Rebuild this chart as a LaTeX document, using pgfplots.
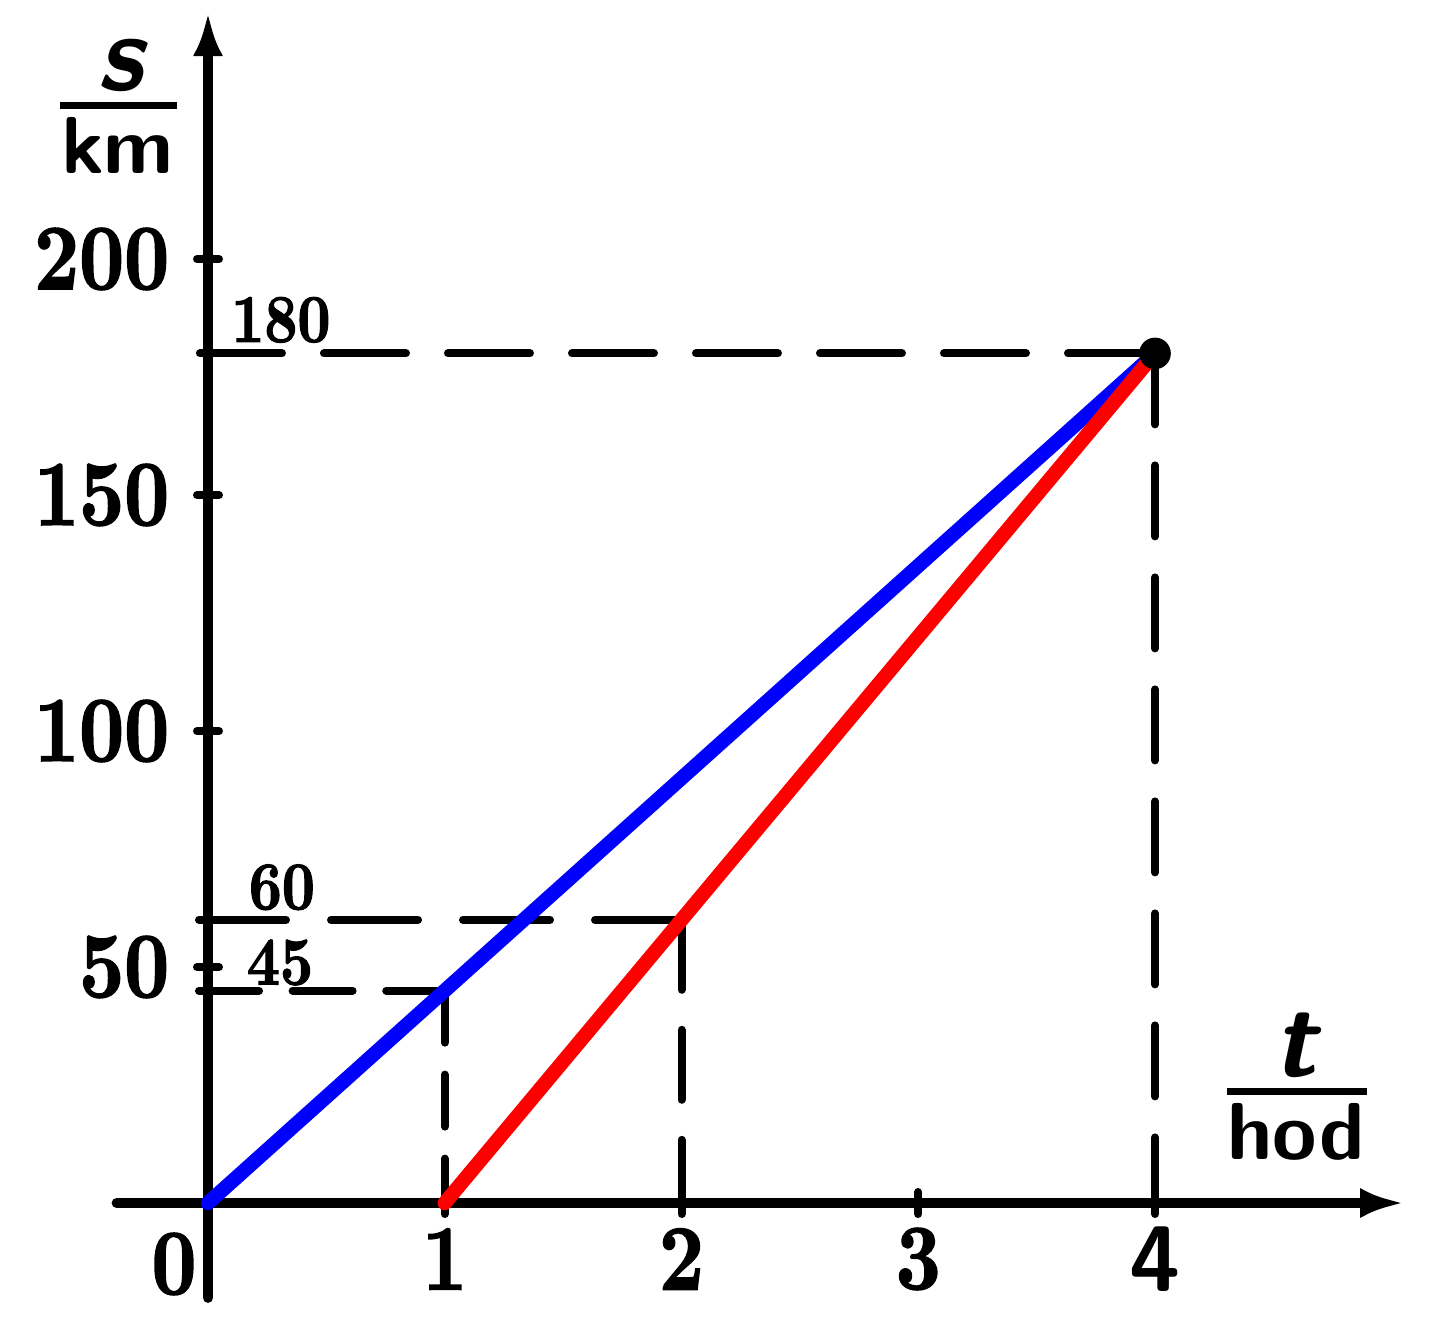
\documentclass[border=0pt]{standalone}
\usepackage{fontspec}
\usepackage{pgfplots}
\pgfplotsset{compat=1.18}
\usetikzlibrary{arrows.meta}

% narrow heavy digits, as in the reference
\newfontfamily\numfont{lmroman10-bold.otf}[FakeStretch=0.84, FakeBold=1.6]
\newcommand{\bigfnt}{\fontsize{23.3}{28}\selectfont\numfont}
\newcommand{\smallfnt}{\fontsize{17.1}{20}\selectfont\numfont}

\begin{document}
\begin{tikzpicture}
\begin{axis}[
    x=59.1875pt, y=1.18pt,
    xmin=-0.386, xmax=5.052,
    ymin=-20.1, ymax=252.3,
    axis lines=middle,
    axis line style={line width=2.5pt, line cap=round, -{Latex[length=11pt,width=7.5pt]}},
    clip=false,
    xtick={1,2,3,4},
    ytick={50,100,150,200},
    xticklabels={1,2,3,{\normalfont\sffamily\bfseries 4}},
    yticklabels={50,100,150,200},
    tick style={line width=2pt, line cap=round, black},
    major tick length=5.5pt,
    tick align=center,
    xticklabel style={font=\bigfnt, anchor=center, yshift=-11.25pt, inner sep=0pt},
    yticklabel style={font=\bigfnt, anchor=east, xshift=-6.75pt, inner sep=0pt},
]
    % dashed guide lines
    \addplot[black, line width=2pt, line cap=round, dash pattern=on 20.5pt off 10.5pt]
        coordinates {(-0.034,180) (4,180)};
    \addplot[black, line width=2pt, line cap=round, dash pattern=on 17.75pt off 10.25pt]
        coordinates {(4,180) (4,0)};
    \addplot[black, line width=2pt, line cap=round, dash pattern=on 21.75pt off 11.25pt]
        coordinates {(-0.038,60) (2,60)};
    \addplot[black, line width=2pt, line cap=round, dash pattern=on 17.5pt off 10pt]
        coordinates {(2,60) (2,0)};
    \addplot[black, line width=2pt, line cap=round, dash pattern=on 15pt off 8.4pt]
        coordinates {(-0.038,45) (1,45)};
    \addplot[black, line width=2pt, line cap=round, dash pattern=on 13pt off 8pt]
        coordinates {(1,45) (1,0)};

    % the two journeys
    \addplot[blue, line width=3.6pt, line cap=round] coordinates {(0,0) (4,180)};
    \addplot[red, line width=3.6pt, line cap=round] coordinates {(1,0) (4,180)};
    \addplot[only marks, mark=*, mark size=3.75pt, black] coordinates {(4,180)};

    % labels
    \node[font=\bigfnt] at (axis cs:-0.1436,-12.92) {0};
    \node[font=\smallfnt] at (axis cs:0.308,187.1) {180};
    \node[font=\smallfnt] at (axis cs:0.312,66.9) {60};
    \node[font=\smallfnt] at (axis cs:0.304,50.95) {45};

    \node[anchor=base, inner sep=0pt, font=\fontsize{27}{30}\selectfont\sffamily\bfseries\slshape]
        at (axis cs:-0.3717,235.8) {s};
    \node[inner sep=0pt] at (axis cs:-0.3764,232.56) {\rule{29.25pt}{1.75pt}};
    \node[anchor=base, inner sep=0pt, font=\fontsize{20.2}{24}\selectfont\sffamily\bfseries]
        at (axis cs:-0.3823,218.2) {km};

    \node[anchor=base, inner sep=0pt, font=\fontsize{27}{30}\selectfont\sffamily\bfseries\slshape]
        at (axis cs:4.5913,26.9) {t};
    \node[inner sep=0pt] at (axis cs:4.5998,23.58) {\rule{35pt}{1.7pt}};
    \node[anchor=base, inner sep=0pt, font=\fontsize{20.2}{24}\selectfont\sffamily\bfseries]
        at (axis cs:4.5956,9.25) {hod};

    % page frame
    \path (axis cs:-0.87856,-29.025) rectangle (axis cs:5.25871,254.873);
\end{axis}
\end{tikzpicture}
\end{document}
